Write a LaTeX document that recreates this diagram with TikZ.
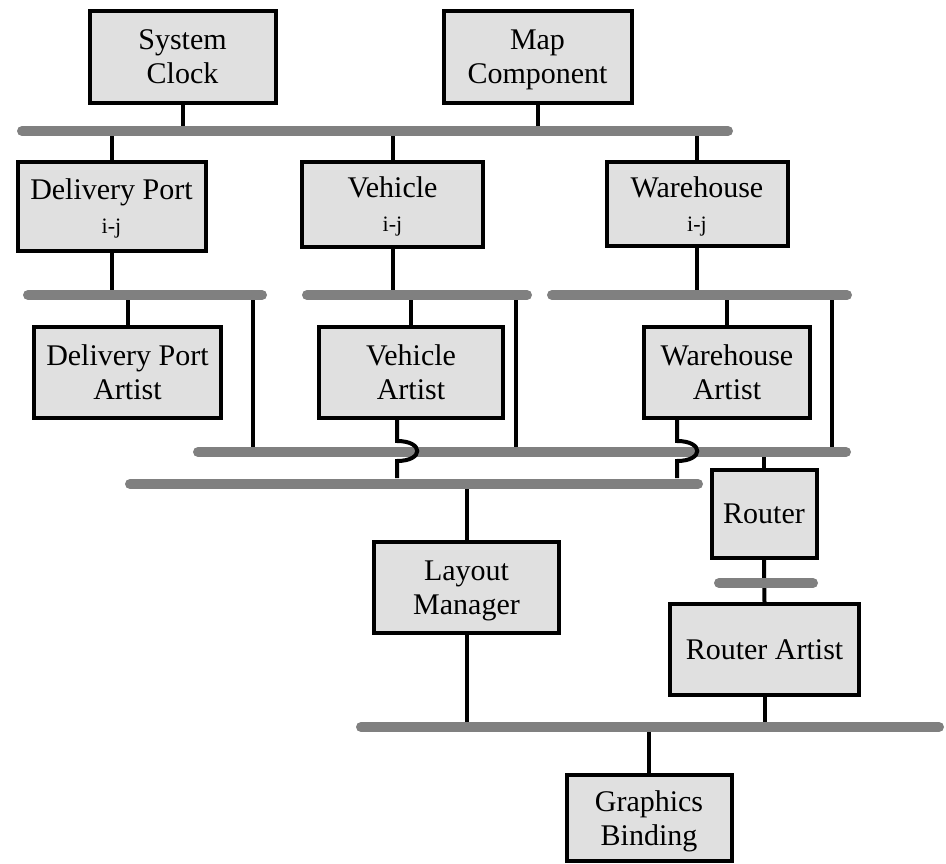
\documentclass[tikz,border=0pt]{standalone}
\usepackage{fontspec}
\setmainfont{Liberation Serif}
\usetikzlibrary{calc}
\definecolor{boxgray}{RGB}{224,224,224}
\definecolor{busgray}{RGB}{128,128,128}
% second line of a label, kept from shifting the block by its descenders
\newcommand{\lastline}[1]{\smash{#1}}
\newcommand{\sublabel}[1]{{\fontsize{22}{26}\selectfont\smash{#1}}}
\begin{document}
\begin{tikzpicture}[x=1pt,y=-1pt,
  box/.style={draw=black, line width=4pt, fill=boxgray, align=center,
    inner sep=0pt, font=\fontsize{30}{34}\selectfont},
  bus/.style={draw=busgray, line width=10pt, line cap=round},
  wire/.style={draw=black, line width=4pt},
]
\useasboundingbox (0,0) rectangle (946,864);

% components
\node[box, minimum width=186pt, minimum height=92pt] (sc) at (182.5,57) {System\\Clock};
\node[box, minimum width=188pt, minimum height=92pt] (mc) at (537.5,57) {Map\\\lastline{Component}};
\node[box, minimum width=188pt, minimum height=89pt] (dp) at (111.5,206.5) {Delivery Port\\\sublabel{i-j}};
\node[box, minimum width=181pt, minimum height=85pt] (vh) at (392.5,204.5) {Vehicle\\\sublabel{i-j}};
\node[box, minimum width=181pt, minimum height=84pt] (wh) at (697,204) {Warehouse\\\sublabel{i-j}};
\node[box, minimum width=187pt, minimum height=91pt] (dpa) at (127.5,372.5) {Delivery Port\\Artist};
\node[box, minimum width=184pt, minimum height=91pt] (va) at (411,372.5) {Vehicle\\Artist};
\node[box, minimum width=166pt, minimum height=91pt] (wa) at (727,372.5) {Warehouse\\Artist};
\node[box, minimum width=105pt, minimum height=88pt] (rt) at (764,514) {Router};
\node[box, minimum width=185pt, minimum height=91pt] (lm) at (466.5,587.5) {Layout\\\lastline{Manager}};
\node[box, minimum width=189pt, minimum height=91pt] (ra) at (764.5,649.5) {Router Artist};
\node[box, minimum width=165pt, minimum height=86pt] (gb) at (649,818) {Graphics\\\lastline{Binding}};

% bus end points
\coordinate (b1w) at (22,131);  \coordinate (b1e) at (728,131);
\coordinate (b2w) at (28,295);  \coordinate (b2e) at (262,295);
\coordinate (b3w) at (307,295); \coordinate (b3e) at (527,295);
\coordinate (b4w) at (552,295); \coordinate (b4e) at (847,295);
\coordinate (b5w) at (198,452); \coordinate (b5e) at (846,452);
\coordinate (b6w) at (130,484); \coordinate (b6e) at (698,484);
\coordinate (b7w) at (719,583); \coordinate (b7e) at (813,583);
\coordinate (b8w) at (361,727); \coordinate (b8e) at (939,727);

% taps joining the artist buses to the upper long bus
\coordinate (t2) at (253,295);
\coordinate (t3) at (516,295);
\coordinate (t4) at (832,295);

% wires
\draw[wire] (sc.south) -- (sc.south |- b1w);
\draw[wire] (mc.south) -- (mc.south |- b1w);
\draw[wire] (dp.north) -- (dp.north |- b1w);
\draw[wire] (vh.north) -- (vh.north |- b1w);
\draw[wire] (wh.north) -- (wh.north |- b1w);
\draw[wire] (dp.south) -- (dp.south |- b2w);
\draw[wire] (vh.south) -- (vh.south |- b3w);
\draw[wire] (wh.south) -- (wh.south |- b4w);
\draw[wire] (dpa.north) -- (dpa.north |- b2w);
\draw[wire] (va.north) -- (va.north |- b3w);
\draw[wire] (wa.north) -- (wa.north |- b4w);
\draw[wire] (t2) -- (t2 |- b5w);
\draw[wire] (t3) -- (t3 |- b5w);
\draw[wire] (t4) -- (t4 |- b5w);
\draw[wire] ($(dpa.south)+(43.5,0)$) -- ($(dpa.south)+(43.5,0)$ |- b6w);
\draw[wire] (lm.north) -- (lm.north |- b6w);
\draw[wire] (lm.south) -- (lm.south |- b8w);
\draw[wire] (rt.north) -- (rt.north |- b5w);
\draw[wire] (rt.south) -- (ra.north);
\draw[wire] (ra.south) -- (ra.south |- b8w);
\draw[wire] (gb.north) -- (gb.north |- b8w);

% buses
\foreach \b in {1,...,8} {\draw[bus] (b\b w) -- (b\b e);}

% artist wires hopping over the upper long bus
\draw[wire] ($(va.south)+(-14,0)$) -- ++(0,21)
  .. controls +(27,0) and +(27,0) .. ++(0,20) -- ++(0,17);
\draw[wire] ($(wa.south)+(-50,0)$) -- ++(0,21)
  .. controls +(27,0) and +(27,0) .. ++(0,20) -- ++(0,17);
\end{tikzpicture}
\end{document}
